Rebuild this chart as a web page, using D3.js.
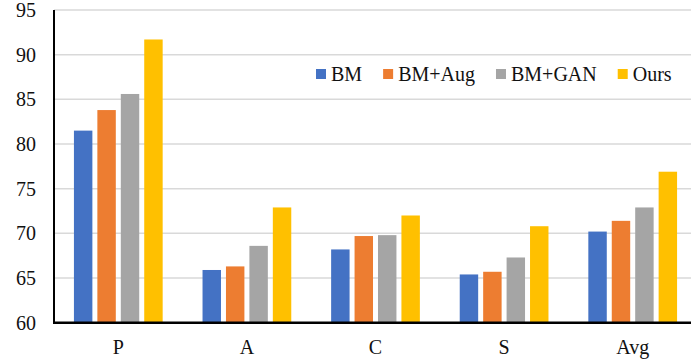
<!DOCTYPE html>
<html>
<head>
<meta charset="utf-8">
<script src="https://cdn.jsdelivr.net/npm/d3@7"></script>
<style>
  html, body { margin: 0; padding: 0; background: #fff; }
  svg { display: block; }
</style>
</head>
<body>
<svg id="chart" width="691" height="364"></svg>
<script>
// Benchmark categories and method results
const categories = ["P", "A", "C", "S", "Avg"];
const seriesNames = ["BM", "BM+Aug", "BM+GAN", "Ours"];
const bmValues     = [81.5, 65.9, 68.2, 65.4, 70.2];
const bmAugValues  = [83.8, 66.3, 69.7, 65.7, 71.4];
const bmGanValues  = [85.6, 68.6, 69.8, 67.3, 72.9];
const oursValues   = [91.7, 72.9, 72.0, 70.8, 76.9];
const yTicks = [60, 65, 70, 75, 80, 85, 90, 95];
const colors = ["#4472C4", "#ED7D31", "#A5A5A5", "#FFC000"];

const seriesValues = [bmValues, bmAugValues, bmGanValues, oursValues];

const W = 691, H = 364;
const plotLeft = 54, plotRight = 697, plotTop = 10, plotBottom = 322.7;
const FONT = "'Liberation Serif', 'Times New Roman', Times, 'DejaVu Serif', serif";

const svg = d3.select("#chart")
  .attr("font-family", FONT);

const x = d3.scaleBand().domain(categories).range([plotLeft, plotRight]).padding(0);
const y = d3.scaleLinear().domain([60, 95]).range([plotBottom, plotTop]);

// Bars within each category group
const groupFrac = 0.69;
const inner = d3.scaleBand()
  .domain(seriesNames)
  .range([0, x.bandwidth() * groupFrac])
  .paddingInner(0.213)
  .paddingOuter(0);
const groupOffset = x.bandwidth() * (1 - groupFrac) / 2;

// Horizontal gridlines
svg.append("g")
  .selectAll("line")
  .data(yTicks.filter(t => t > 60))
  .join("line")
  .attr("x1", plotLeft)
  .attr("x2", W)
  .attr("y1", d => y(d))
  .attr("y2", d => y(d))
  .attr("stroke", "#d9d9d9")
  .attr("stroke-width", 1.5);

// Bars
const rows = categories.map((c, i) => ({
  cat: c,
  vals: seriesNames.map((s, j) => ({ s, j, v: seriesValues[j][i] }))
}));

svg.append("g")
  .selectAll("g")
  .data(rows)
  .join("g")
  .attr("transform", d => `translate(${x(d.cat) + groupOffset},0)`)
  .selectAll("rect")
  .data(d => d.vals)
  .join("rect")
  .attr("x", d => inner(d.s))
  .attr("width", inner.bandwidth())
  .attr("y", d => y(d.v))
  .attr("height", d => y(60) - y(d.v))
  .attr("fill", d => colors[d.j]);

// Axis lines
svg.append("line")
  .attr("x1", plotLeft).attr("x2", plotLeft)
  .attr("y1", plotTop).attr("y2", plotBottom)
  .attr("stroke", "#000").attr("stroke-width", 2);
svg.append("line")
  .attr("x1", plotLeft - 1).attr("x2", W)
  .attr("y1", plotBottom).attr("y2", plotBottom)
  .attr("stroke", "#000").attr("stroke-width", 2.5);

// Y tick labels
svg.append("g")
  .selectAll("text")
  .data(yTicks)
  .join("text")
  .attr("x", 36)
  .attr("y", d => y(d) + 7)
  .attr("text-anchor", "end")
  .attr("font-size", 20)
  .attr("fill", "#111")
  .text(d => d);

// X category labels
svg.append("g")
  .selectAll("text")
  .data(categories)
  .join("text")
  .attr("x", d => x(d) + x.bandwidth() / 2)
  .attr("y", 354)
  .attr("text-anchor", "middle")
  .attr("font-size", 20)
  .attr("fill", "#111")
  .text(d => d);

// Legend
const legend = svg.append("g").attr("transform", "translate(316,74)");
let lx = 0;
seriesNames.forEach((name, j) => {
  const g = legend.append("g").attr("transform", `translate(${lx},0)`);
  g.append("rect")
    .attr("x", 0).attr("y", -5)
    .attr("width", 10).attr("height", 10)
    .attr("fill", colors[j]);
  const t = g.append("text")
    .attr("x", 15).attr("y", 6.5)
    .attr("font-size", 20)
    .attr("fill", "#111")
    .text(name);
  lx += 15 + t.node().getComputedTextLength() + 21;
});
</script>
</body>
</html>
